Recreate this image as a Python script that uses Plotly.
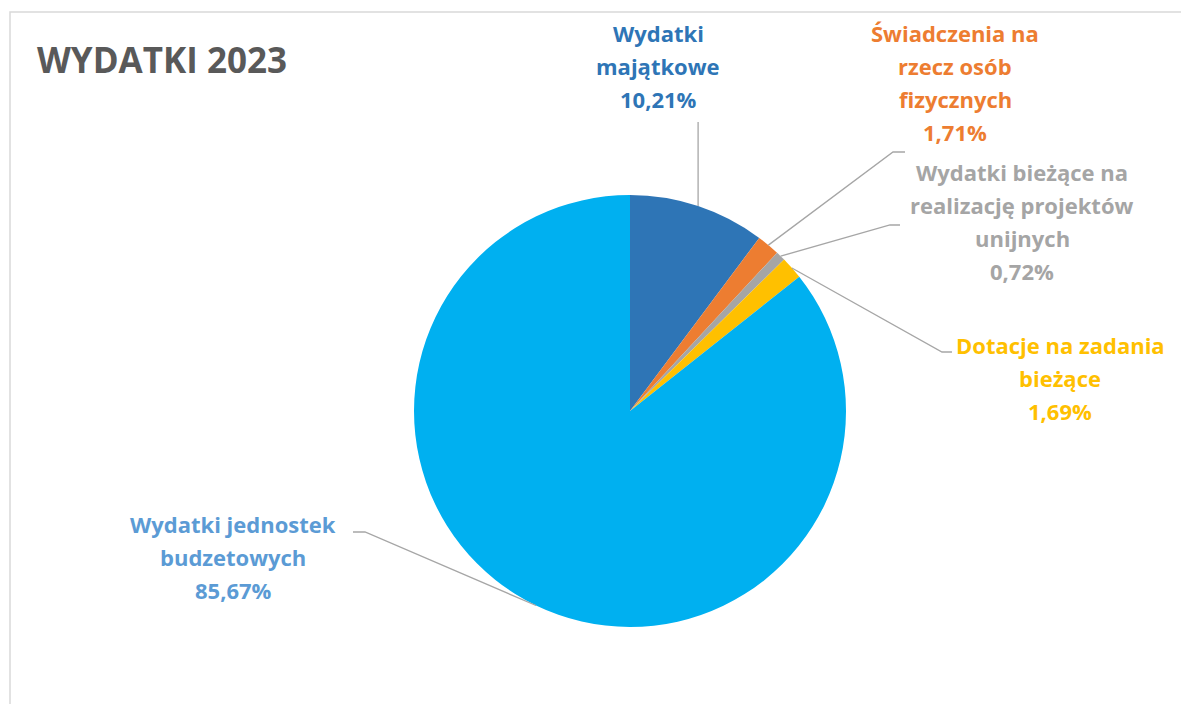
import math
import plotly.graph_objects as go

# the page puts the figure 8px in from the top-left corner
OFF = 8
W, H = 1189 - OFF, 704 - OFF

# data
labels = ["Wydatki majątkowe", "Świadczenia na rzecz osób fizycznych",
          "Wydatki bieżące na realizację projektów unijnych",
          "Dotacje na zadania bieżące", "Wydatki jednostek budzetowych"]
values = [10.21, 1.71, 0.72, 1.69, 85.67]
slice_colors = ["#2E75B6", "#ED7D31", "#A5A5A5", "#FFC000", "#00B0F0"]
text_colors = ["#2E75B6", "#ED7D31", "#A5A5A5", "#FFC000", "#5B9BD5"]
label_lines = [
    ["Wydatki", "majątkowe"],
    ["Świadczenia na", "rzecz osób", "fizycznych"],
    ["Wydatki bieżące na", "realizację projektów", "unijnych"],
    ["Dotacje na zadania", "bieżące"],
    ["Wydatki jednostek", "budzetowych"],
]

# pie geometry (page pixels)
cx, cy, r = 630, 411, 216
# label placement: centre x, first line y (page pixels), leader elbow, leader end
label_pos = [(658, 33), (955, 33), (1022, 172), (1060, 345), (233, 524)]
leader = [
    (None, (697, 122)),
    ((893, 152), (905, 152)),
    ((890, 225), (900, 225)),
    ((942, 352), (952, 352)),
    ((365, 532), (353, 532)),
]
line_gap = 33


def px(x, y):
    return (x - OFF) / W, 1 - (y - OFF) / H


x0, y1 = px(cx - r, cy - r)
x1, y0 = px(cx + r, cy + r)
fig = go.Figure(go.Pie(
    labels=labels, values=values, sort=False, direction="clockwise",
    marker=dict(colors=slice_colors, line=dict(width=0)),
    textinfo="none", hoverinfo="label+percent", showlegend=False,
    domain=dict(x=[x0, x1], y=[y0, y1]),
))

annotations = []
shapes = []
total = sum(values)
cum = 0
for i, v in enumerate(values):
    mid = (cum + v / 2) / total * 2 * math.pi
    cum += v
    ex, ey = cx + r * math.sin(mid), cy - r * math.cos(mid)
    pct = f"{v:.2f}%".replace(".", ",")
    lines = label_lines[i] + [pct]
    lx, ly = label_pos[i]
    for j, t in enumerate(lines):
        xx, yy = px(lx, ly + j * line_gap)
        annotations.append(dict(x=xx, y=yy, xref="paper", yref="paper", text=f"<b>{t}</b>",
                                showarrow=False, xanchor="center", yanchor="middle",
                                font=dict(family="Open Sans", size=22, color=text_colors[i])))
    elbow, end = leader[i]
    pts = [(ex, ey)]
    if elbow is None:
        pts.append((ex, end[1]))
    else:
        pts += [elbow, end]
    path = "M " + " L ".join(f"{px(a, b)[0]:.5f},{px(a, b)[1]:.5f}" for a, b in pts)
    shapes.append(dict(type="path", path=path, xref="paper", yref="paper",
                       line=dict(color="#A6A6A6", width=1.3)))

# chart frame
fx0, fy1 = px(10, 12)
shapes.append(dict(type="rect", xref="paper", yref="paper", x0=fx0, x1=1.05,
                   y0=-0.05, y1=fy1, line=dict(color="#D9D9D9", width=1.5)))

tx, ty = px(35, 60)
annotations.append(dict(x=tx, y=ty, xref="paper", yref="paper", text="<b>WYDATKI 2023</b>",
                        showarrow=False, xanchor="left", yanchor="middle",
                        font=dict(family="Open Sans", size=35, color="#595959")))

fig.update_layout(width=W, height=H, margin=dict(l=0, r=0, t=0, b=0),
                  paper_bgcolor="white", plot_bgcolor="white",
                  annotations=annotations, shapes=shapes)

fig.write_html("out.html")
